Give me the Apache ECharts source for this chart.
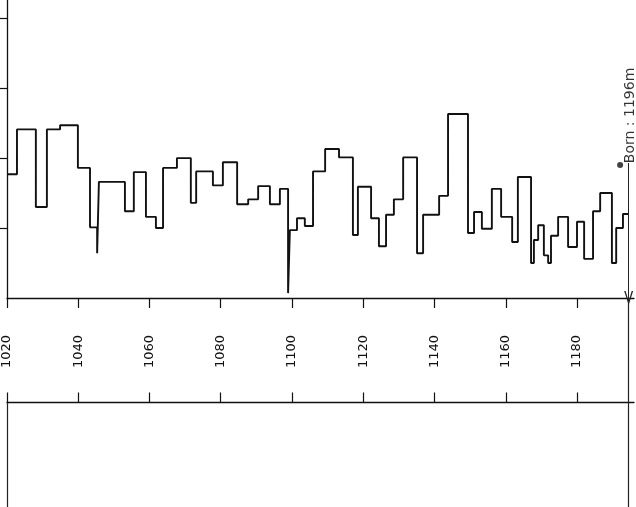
<!DOCTYPE html>
<html><head><meta charset="utf-8">
<script src="https://cdn.jsdelivr.net/npm/echarts@6/dist/echarts.min.js"></script>
<style>html,body{margin:0;padding:0;background:#fff}#c{width:636px;height:507px}</style>
</head><body><div id="c"></div>
<script>
// Start year of each step segment
const stepStartYears = [1020, 1022.8, 1028.1, 1031.2, 1034.9, 1039.9, 1043.3, 1045.3, 1045.8, 1053.1,
  1055.6, 1059.0, 1061.8, 1063.8, 1067.7, 1071.6, 1073.1, 1077.8, 1080.6, 1084.6,
  1087.7, 1090.5, 1093.8, 1096.6, 1098.9, 1099.4, 1101.4, 1103.6, 1105.9, 1109.3,
  1113.2, 1117.1, 1118.5, 1122.2, 1124.4, 1126.4, 1128.6, 1131.2, 1135.1, 1136.8,
  1141.3, 1143.8, 1149.4, 1151.1, 1153.3, 1156.1, 1158.7, 1161.8, 1163.4, 1167.1,
  1167.9, 1169.1, 1170.7, 1171.9, 1172.7, 1174.7, 1177.5, 1180.0, 1182.0, 1184.5,
  1186.5, 1189.8, 1191.0, 1192.9];
// Value of each step segment
const stepValues = [1.77, 2.41, 1.30, 2.41, 2.47, 1.86, 1.01, 0.64, 1.66, 1.24,
  1.80, 1.16, 1.00, 1.86, 2.00, 1.36, 1.81, 1.61, 1.94, 1.34,
  1.41, 1.60, 1.34, 1.56, 0.07, 0.97, 1.14, 1.03, 1.81, 2.13,
  2.01, 0.90, 1.59, 1.14, 0.74, 1.19, 1.41, 2.01, 0.64, 1.19,
  1.46, 2.63, 0.93, 1.23, 0.99, 1.56, 1.16, 0.80, 1.73, 0.50,
  0.83, 1.04, 0.61, 0.50, 0.89, 1.16, 0.73, 1.09, 0.56, 1.24,
  1.50, 0.50, 1.00, 1.20];
const tickYears = [1020, 1040, 1060, 1080, 1100, 1120, 1140, 1160, 1180];
const yTickValues = [1, 2, 3, 4];
const bornYear = 1194.5;
const bornLabel = 'Born : 1196m';
const bornLabelValue = 2.61;
const bornLineTopValue = 1.93;
const bornDot = [1192.1, 1.90];

const stepData = stepStartYears.map((x, i) => [x, stepValues[i]]);
stepData.push([bornYear, stepValues[stepValues.length - 1]]);

const ink = '#111';
const axisLine = { lineStyle: { color: ink, width: 1.3 } };
const chart = echarts.init(document.getElementById('c'));
chart.setOption({
  animation: false,
  backgroundColor: '#fff',
  grid: [
    { left: 7, right: 2, top: 0, bottom: 209 },
    { left: 7, right: 2, top: 298, bottom: 0 }
  ],
  xAxis: [
    { gridIndex: 0, type: 'value', min: 1020, max: 1196, interval: 20,
      axisLine: Object.assign({ onZero: false }, axisLine),
      axisTick: { customValues: tickYears, length: 10, lineStyle: { color: ink, width: 1.2 } },
      axisLabel: { customValues: tickYears, rotate: 90, margin: 37, fontSize: 13,
        color: ink, fontFamily: 'DejaVu Sans', formatter: v => String(v) },
      splitLine: { show: false } },
    { gridIndex: 1, type: 'value', min: 1020, max: 1196, interval: 20, position: 'top',
      axisLine: Object.assign({ onZero: true }, axisLine),
      axisTick: { customValues: tickYears, length: 10, lineStyle: { color: ink, width: 1.2 } },
      axisLabel: { show: false },
      splitLine: { show: false } }
  ],
  yAxis: [
    { gridIndex: 0, type: 'value', min: 0, max: 4.26, interval: 1,
      axisLine: Object.assign({ show: true, onZero: false }, axisLine),
      axisTick: { show: true, customValues: yTickValues, length: 7, lineStyle: { color: ink, width: 1.2 } },
      axisLabel: { show: false }, splitLine: { show: false } },
    { gridIndex: 1, type: 'value', min: -1, max: 1,
      axisLine: { show: false }, axisTick: { show: false },
      axisLabel: { show: false }, splitLine: { show: false } }
  ],
  series: [
    { type: 'line', xAxisIndex: 0, yAxisIndex: 0, step: 'end', data: stepData,
      symbol: 'none', lineStyle: { color: ink, width: 1.9 },
      markLine: { silent: true, animation: false,
        symbol: ['none', 'path://M0,14 L5,0 L10,14 L8.4,14 L5,3.8 L1.6,14 Z'],
        symbolSize: [9, 14],
        label: { show: false },
        lineStyle: { color: '#222', width: 1, type: 'solid' },
        data: [[{ coord: [bornYear, bornLineTopValue] }, { coord: [bornYear, 0] }]] } },
    { type: 'scatter', xAxisIndex: 0, yAxisIndex: 0, data: [bornDot],
      symbolSize: 6, itemStyle: { color: ink }, silent: true },
    { type: 'scatter', xAxisIndex: 0, yAxisIndex: 0, data: [[bornYear + 0.4, bornLabelValue]],
      symbolSize: 0, silent: true, itemStyle: { color: ink },
      label: { show: true, position: 'inside', rotate: 90, formatter: bornLabel,
        fontSize: 14, color: '#000', textBorderWidth: 0, fontFamily: 'DejaVu Sans' } },
    { type: 'line', xAxisIndex: 1, yAxisIndex: 1, data: [[1020, 0]], symbol: 'none',
      lineStyle: { width: 0 },
      markLine: { silent: true, animation: false, symbol: 'none', label: { show: false },
        lineStyle: { color: '#222', width: 1.2, type: 'solid' },
        data: [
          [{ coord: [bornYear, 1] }, { coord: [bornYear, -1] }],
          [{ coord: [1020, 0] }, { coord: [1020, -1] }]
        ] } }
  ]
});
</script>
</body></html>
